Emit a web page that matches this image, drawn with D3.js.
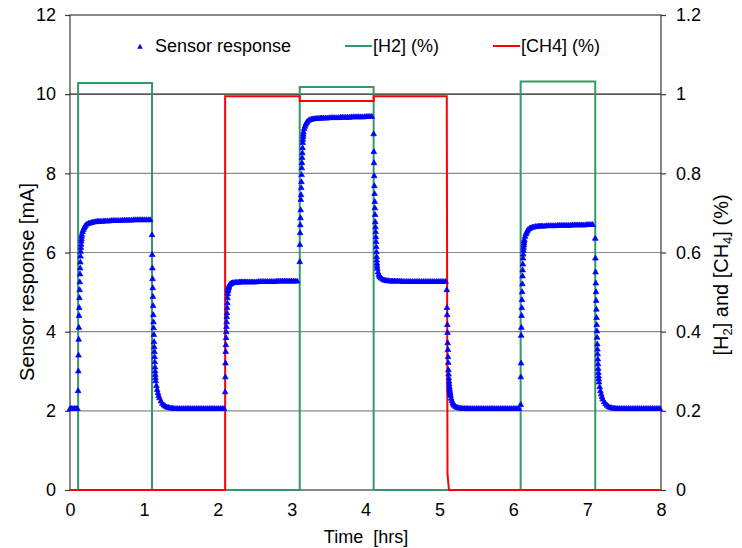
<!DOCTYPE html>
<html>
<head>
<meta charset="utf-8">
<script src="https://cdnjs.cloudflare.com/ajax/libs/d3/7.8.5/d3.min.js"></script>
<style>
body { margin: 0; background: #fff; }
svg text { font-family: "Liberation Sans", Arial, sans-serif; font-size: 18px; fill: #000; }
</style>
</head>
<body>
<div id="chart"></div>
<script>
// sensor response: value before first step, then one block of samples after every gas step
var initTimes = [0, 0.02, 0.04, 0.06, 0.08, 0.1];
var initVals = [2.05, 2.05, 2.05, 2.05, 2.05, 2.05];

var stepTimes = [0.11, 1.11, 2.1, 3.11, 4.11, 5.1, 6.1, 7.11];

// hours after each step at which a sample is shown
var sampleOffsets = [0, .0025, .005, .0075, .01, .0125, .015, .0175, .02, .0225,
  .025, .0275, .03, .0325, .035, .0375, .04, .0425, .045, .0475,
  .05, .06, .07, .08, .09, .1, .12, .14, .16, .18, .2, .22, .24, .26, .28,
  .3, .325, .35, .375, .4, .425, .45, .475, .5, .525, .55, .575, .6, .625,
  .65, .675, .7, .725, .75, .775, .8, .825, .85, .875, .9, .925, .95, .975];

var responseSteps = [
  [2.5, 3.0, 3.4, 3.8, 4.1, 4.4, 4.6, 4.85, 5.05, 5.25, 5.45, 5.6, 5.75, 5.9, 6.02, 6.12, 6.2, 6.28, 6.34, 6.4,
   6.45, 6.52, 6.57, 6.61, 6.65, 6.68, 6.71, 6.73, 6.74, 6.75, 6.76, 6.77, 6.77, 6.78, 6.78,
   6.78, 6.78, 6.79, 6.79, 6.79, 6.79, 6.8, 6.8, 6.8, 6.8, 6.8, 6.8, 6.81, 6.81,
   6.81, 6.81, 6.81, 6.81, 6.82, 6.82, 6.82, 6.82, 6.82, 6.82, 6.82, 6.82, 6.82, 6.82],
  [6.44, 5.94, 5.6, 5.33, 5.1, 4.88, 4.65, 4.42, 4.24, 4.09, 3.92, 3.74, 3.61, 3.49, 3.36, 3.23, 3.1, 3.0, 2.91, 2.83,
   2.75, 2.63, 2.53, 2.45, 2.38, 2.32, 2.24, 2.18, 2.14, 2.11, 2.09, 2.08, 2.07, 2.06, 2.06,
   2.05, 2.05, 2.05, 2.05, 2.05, 2.05, 2.05, 2.05, 2.05, 2.05, 2.05, 2.05, 2.05, 2.05,
   2.05, 2.05, 2.05, 2.05, 2.05, 2.05, 2.05, 2.05, 2.05, 2.05, 2.05, 2.05, 2.05, 2.05],
  [2.47, 2.85, 3.2, 3.49, 3.66, 3.84, 3.99, 4.12, 4.24, 4.37, 4.47, 4.6, 4.72, 4.85, 4.95, 5.02, 5.06, 5.09, 5.11, 5.13,
   5.15, 5.18, 5.2, 5.21, 5.22, 5.23, 5.23, 5.24, 5.24, 5.24, 5.25, 5.25, 5.25, 5.25, 5.25,
   5.25, 5.25, 5.25, 5.25, 5.25, 5.25, 5.26, 5.26, 5.26, 5.26, 5.26, 5.26, 5.26, 5.26,
   5.26, 5.26, 5.27, 5.27, 5.27, 5.27, 5.27, 5.27, 5.27, 5.27, 5.27, 5.27, 5.27, 5.27],
  [5.76, 6.19, 6.49, 6.69, 6.87, 7.07, 7.33, 7.45, 7.63, 7.78, 7.96, 8.13, 8.26, 8.39, 8.51, 8.64, 8.77, 8.85, 8.92, 8.98,
   9.04, 9.12, 9.18, 9.23, 9.27, 9.3, 9.33, 9.35, 9.36, 9.37, 9.37, 9.38, 9.38, 9.38, 9.39,
   9.39, 9.39, 9.39, 9.39, 9.4, 9.4, 9.4, 9.4, 9.4, 9.4, 9.41, 9.41, 9.41, 9.41,
   9.41, 9.41, 9.42, 9.42, 9.42, 9.42, 9.42, 9.42, 9.42, 9.42, 9.43, 9.43, 9.43, 9.43],
  [8.99, 8.54, 8.26, 7.93, 7.68, 7.48, 7.28, 7.12, 6.95, 6.77, 6.64, 6.52, 6.39, 6.27, 6.14, 6.01, 5.89, 5.8, 5.72, 5.65,
   5.59, 5.5, 5.44, 5.4, 5.37, 5.35, 5.32, 5.3, 5.29, 5.28, 5.28, 5.27, 5.27, 5.27, 5.27,
   5.27, 5.27, 5.27, 5.27, 5.26, 5.26, 5.26, 5.26, 5.26, 5.26, 5.26, 5.26, 5.26, 5.26,
   5.26, 5.26, 5.26, 5.26, 5.26, 5.26, 5.26, 5.26, 5.26, 5.26, 5.26, 5.26, 5.26, 5.26],
  [5.05, 4.6, 4.42, 4.17, 3.97, 3.71, 3.54, 3.36, 3.21, 3.03, 2.92, 2.82, 2.74, 2.67, 2.61, 2.56, 2.51, 2.47, 2.44, 2.41,
   2.38, 2.31, 2.25, 2.2, 2.16, 2.13, 2.1, 2.08, 2.07, 2.06, 2.06, 2.05, 2.05, 2.05, 2.05,
   2.05, 2.05, 2.05, 2.05, 2.05, 2.05, 2.05, 2.05, 2.05, 2.05, 2.05, 2.05, 2.05, 2.05,
   2.05, 2.05, 2.05, 2.05, 2.05, 2.05, 2.05, 2.05, 2.05, 2.05, 2.05, 2.05, 2.05, 2.05],
  [2.15, 2.85, 3.2, 3.9, 4.1, 4.4, 4.6, 4.8, 5.0, 5.2, 5.4, 5.55, 5.7, 5.85, 5.95, 6.05, 6.12, 6.18, 6.23, 6.28,
   6.32, 6.4, 6.46, 6.5, 6.54, 6.57, 6.6, 6.62, 6.63, 6.64, 6.65, 6.65, 6.66, 6.66, 6.66,
   6.66, 6.66, 6.67, 6.67, 6.67, 6.67, 6.67, 6.67, 6.68, 6.68, 6.68, 6.68, 6.68, 6.68,
   6.68, 6.68, 6.69, 6.69, 6.69, 6.69, 6.69, 6.69, 6.69, 6.69, 6.7, 6.7, 6.7, 6.7],
  [6.35, 5.85, 5.5, 5.22, 5.0, 4.78, 4.56, 4.35, 4.17, 4.01, 3.85, 3.68, 3.55, 3.43, 3.3, 3.18, 3.06, 2.96, 2.87, 2.8,
   2.72, 2.6, 2.5, 2.42, 2.35, 2.29, 2.22, 2.17, 2.13, 2.1, 2.08, 2.07, 2.06, 2.06, 2.05,
   2.05, 2.05, 2.05, 2.05, 2.05, 2.05, 2.05, 2.05, 2.05, 2.05, 2.05, 2.05, 2.05, 2.05,
   2.05, 2.05, 2.05, 2.05, 2.05, 2.05, 2.05, 2.05, 2.05, 2.05, 2.05, 2.05, 2.05, 2.05]
];

// gas concentrations (%), right axis
var h2Times = [0, 0.11, 0.11, 1.11, 1.11, 3.11, 3.11, 4.11, 4.11, 6.1, 6.1, 7.11, 7.11, 8];
var h2Vals = [0, 0, 1.028, 1.028, 0, 0, 1.018, 1.018, 0, 0, 1.032, 1.032, 0, 0];
var ch4Times = [0, 2.1, 2.1, 3.11, 3.11, 4.11, 4.11, 5.1, 5.11, 5.13, 8];
var ch4Vals = [0, 0, 0.995, 0.995, 0.983, 0.983, 0.995, 0.995, 0.04, 0, 0];

var xTicks = [0, 1, 2, 3, 4, 5, 6, 7, 8];
var yLeftTicks = [0, 2, 4, 6, 8, 10, 12];
var yRightTicks = [0, 0.2, 0.4, 0.6, 0.8, 1, 1.2];

var W = 742, H = 548;
var plotL = 70, plotR = 661, plotT = 15, plotB = 490;

var svg = d3.select("#chart").append("svg").attr("width", W).attr("height", H);

var x = d3.scaleLinear().domain([0, 8]).range([plotL, plotR]);
var yL = d3.scaleLinear().domain([0, 12]).range([plotB, plotT]);
var yR = d3.scaleLinear().domain([0, 1.2]).range([plotB, plotT]);

// horizontal gridlines
svg.append("g").selectAll("line").data(yLeftTicks.slice(1, -1)).enter().append("line")
  .attr("x1", plotL).attr("x2", plotR)
  .attr("y1", function(d) { return yL(d); }).attr("y2", function(d) { return yL(d); })
  .attr("stroke", function(d) { return d == 10 ? "#1a1a1a" : "#8a8a8a"; })
  .attr("stroke-width", 1.2);

// plot frame
svg.append("rect").attr("x", plotL).attr("y", plotT)
  .attr("width", plotR - plotL).attr("height", plotB - plotT)
  .attr("fill", "none").attr("stroke", "#3a3a3a").attr("stroke-width", 1.2);

// axes
var axL = svg.append("g").attr("transform", "translate(" + plotL + ",0)")
  .call(d3.axisLeft(yL).tickValues(yLeftTicks).tickSize(5).tickPadding(9).tickFormat(d3.format("d")));
var axR = svg.append("g").attr("transform", "translate(" + plotR + ",0)")
  .call(d3.axisRight(yR).tickValues(yRightTicks).tickSize(5).tickPadding(10).tickFormat(function(d) { return String(d); }));
var axB = svg.append("g").attr("transform", "translate(0," + plotB + ")")
  .call(d3.axisBottom(x).tickValues(xTicks).tickSize(0).tickPadding(13).tickFormat(d3.format("d")));
[axL, axR, axB].forEach(function(a) {
  a.attr("font-size", null).attr("font-family", null);
  a.select(".domain").remove();
  a.selectAll("line").attr("stroke", "#3a3a3a").attr("stroke-width", 1.2);
  a.selectAll("text").attr("fill", "#000");
});

// H2 and CH4 lines
var line = d3.line().x(function(d) { return x(d[0]); }).y(function(d) { return yR(d[1]); });
svg.append("path").attr("d", line(d3.zip(h2Times, h2Vals)))
  .attr("fill", "none").attr("stroke", "#339966").attr("stroke-width", 2);
svg.append("path").attr("d", line(d3.zip(ch4Times, ch4Vals)))
  .attr("fill", "none").attr("stroke", "#ff0000").attr("stroke-width", 2);

// sensor response points
var pts = d3.zip(initTimes, initVals);
stepTimes.forEach(function(s, i) {
  sampleOffsets.forEach(function(o, j) {
    pts.push([s + o, responseSteps[i][j]]);
  });
});
pts = pts.filter(function(d) { return d[0] <= 8; });

var tri = d3.symbol().type(d3.symbolTriangle).size(14);
svg.append("g").selectAll("path").data(pts).enter().append("path")
  .attr("d", tri)
  .attr("transform", function(d) { return "translate(" + x(d[0]) + "," + yL(d[1]) + ")"; })
  .attr("fill", "#0000ff").attr("stroke", "#0000ff").attr("stroke-width", 0.7);

// legend
svg.append("path").attr("d", tri).attr("transform", "translate(140,47)").attr("fill", "#0000ff");
svg.append("text").attr("x", 155).attr("y", 52).text("Sensor response");
svg.append("line").attr("x1", 345).attr("x2", 372).attr("y1", 46).attr("y2", 46)
  .attr("stroke", "#339966").attr("stroke-width", 2);
svg.append("text").attr("x", 373).attr("y", 52).text("[H2] (%)");
svg.append("line").attr("x1", 493).attr("x2", 520).attr("y1", 46).attr("y2", 46)
  .attr("stroke", "#ff0000").attr("stroke-width", 2);
svg.append("text").attr("x", 521).attr("y", 52).text("[CH4] (%)");

// axis titles
svg.append("text").attr("x", 366).attr("y", 543).attr("text-anchor", "middle")
  .style("white-space", "pre").text("Time  [hrs]");
svg.append("text").attr("transform", "translate(34,282) rotate(-90)")
  .attr("text-anchor", "middle").style("font-size", "20px").text("Sensor response [mA]");
var rt = svg.append("text").attr("transform", "translate(728,275) rotate(-90)")
  .attr("text-anchor", "middle").style("font-size", "20px");
rt.append("tspan").text("[H");
rt.append("tspan").style("font-size", "13px").attr("dy", 4).text("2");
rt.append("tspan").attr("dy", -4).text("] and [CH");
rt.append("tspan").style("font-size", "13px").attr("dy", 4).text("4");
rt.append("tspan").attr("dy", -4).text("] (%)");
</script>
</body>
</html>
